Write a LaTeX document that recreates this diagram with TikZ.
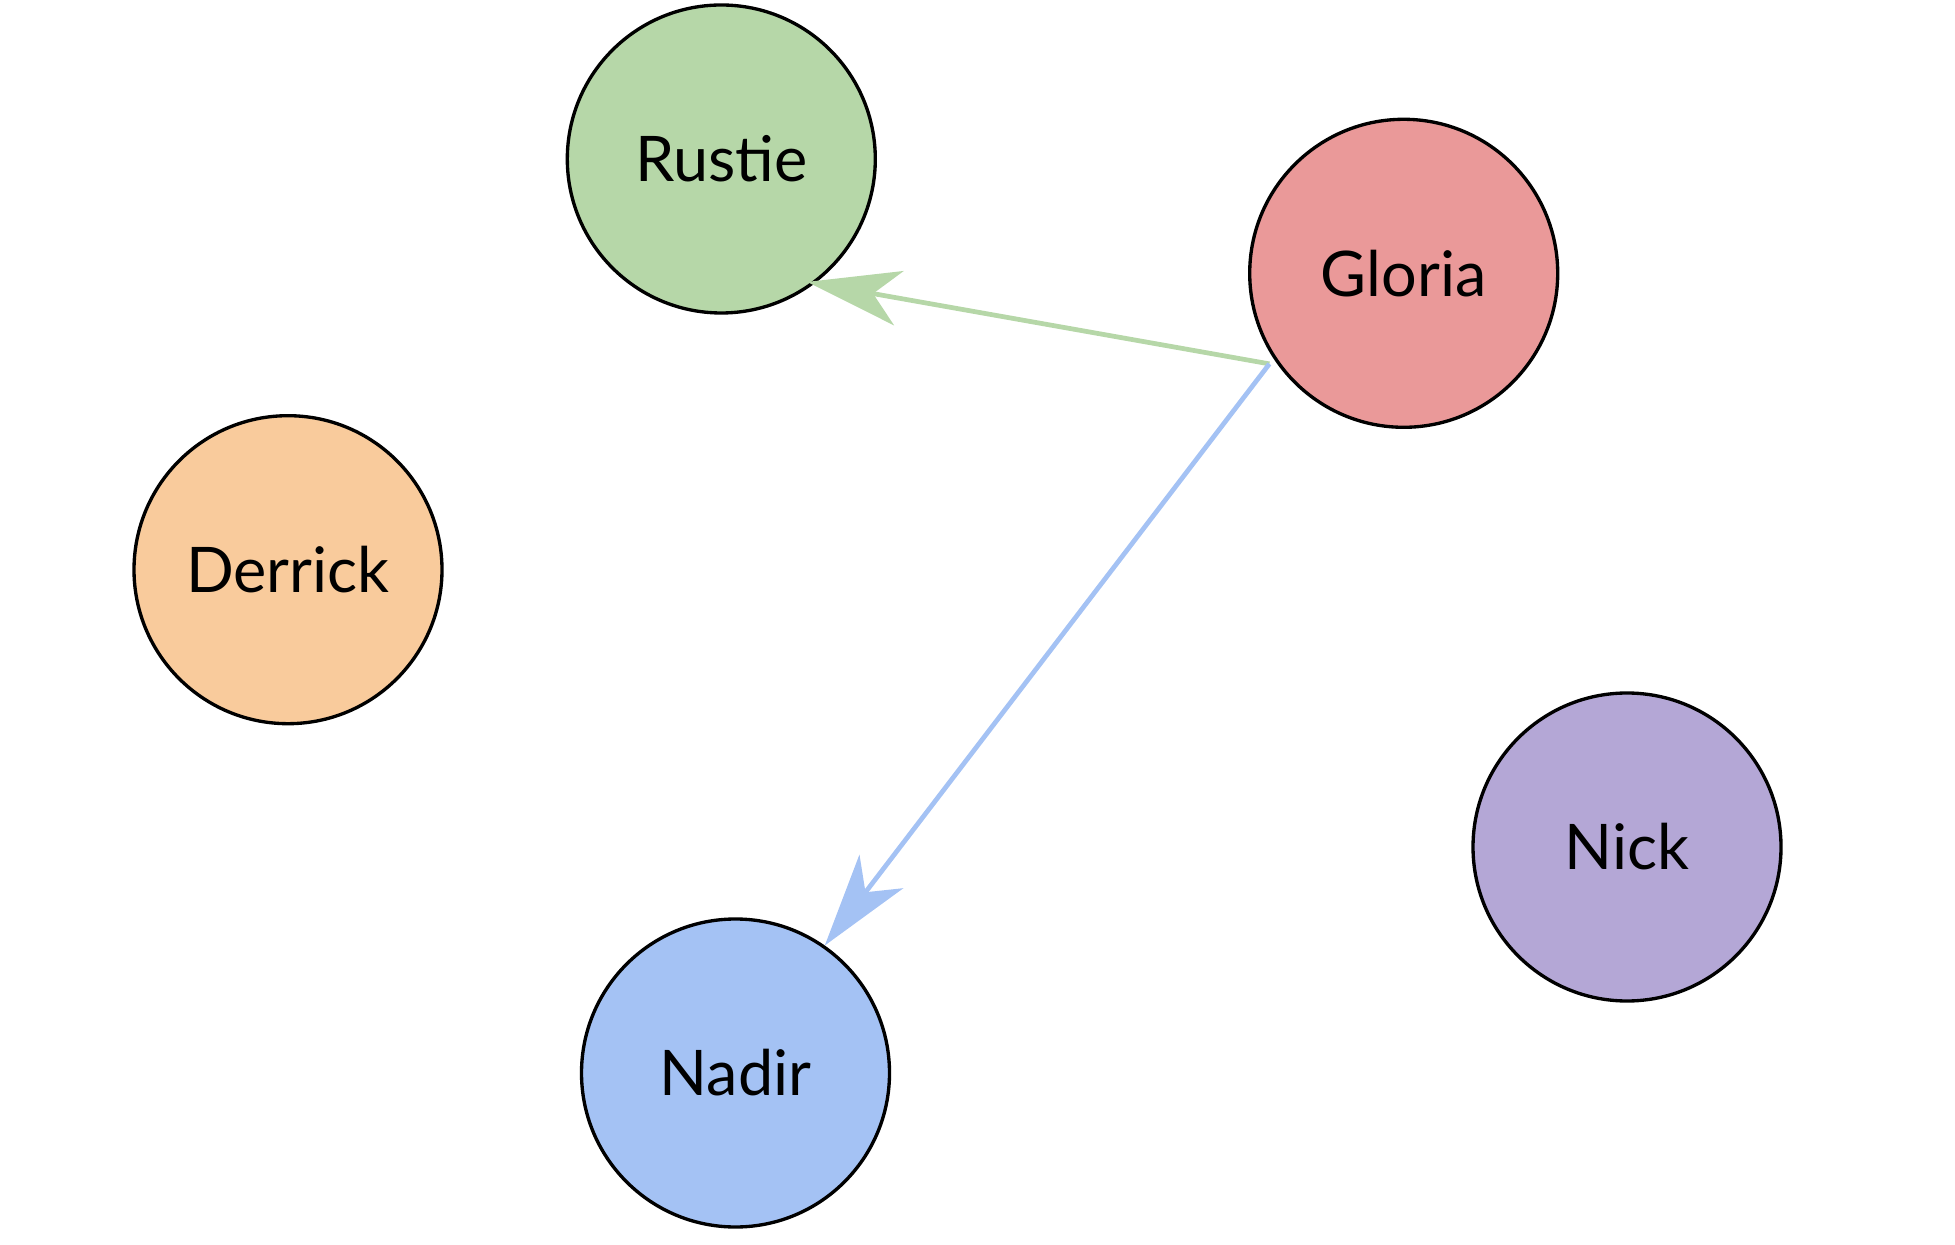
\documentclass[tikz,border=0pt]{standalone}
\usepackage{fontspec}
\setmainfont{Lato}
\usepackage{tikz}
\usetikzlibrary{calc,arrows.meta}

\definecolor{rustiegreen}{HTML}{B6D7A8}
\definecolor{gloriared}{HTML}{EA9999}
\definecolor{derrickorange}{HTML}{F9CB9C}
\definecolor{nickpurple}{HTML}{B4A7D6}
\definecolor{nadirblue}{HTML}{A4C2F4}

\tikzset{
  person/.style={circle, draw=black, line width=0.95pt, minimum size=3.08cm, inner sep=0pt,
                 font=\fontsize{17.9}{21}\selectfont},
  link/.style={line width=1.35pt, -{Stealth[length=9.3mm, width=5.5mm, inset=2.6mm]}}
}

\begin{document}
\begin{tikzpicture}
                      \useasboundingbox (0,0) rectangle (19.55,12.44);
                      \node[person, fill=rustiegreen] (rustie) at (7.213,10.85) {Rustie};
                      \node[person, fill=gloriared] (gloria) at (14.037,9.707) {Gloria};
                      \node[person, fill=derrickorange] (derrick) at (2.88,6.743) {Derrick};
                      \node[person, fill=nickpurple] (nick) at (16.27,3.97) {Nick};
                      \node[person, fill=nadirblue] (nadir) at (7.355,1.71) {Nadir};
                      \coordinate (gfoot) at ($(gloria.center)+(214:1.62)$);
                      \draw[link, rustiegreen, shorten >=-0.08cm] (gfoot) -- (rustie.-53);
                      \draw[link, nadirblue] (gfoot) -- (nadir.55);
                  \end{tikzpicture}
\end{document}
